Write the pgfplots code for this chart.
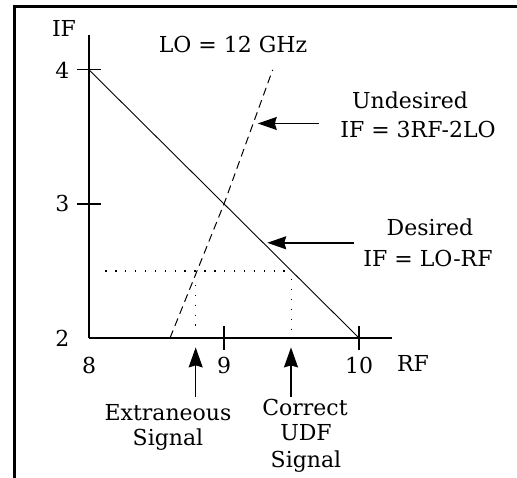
\documentclass[border=0pt]{standalone}
\usepackage{pgfplots}
\pgfplotsset{compat=1.18}
\usepackage{fontspec}
\setmainfont{DejaVu Serif}
\usetikzlibrary{arrows.meta}
\begin{document}
\fontsize{22pt}{26pt}\selectfont
\begin{tikzpicture}[x=1pt,y=1pt]
\useasboundingbox (0,0) rectangle (517,478);
\fill[white] (0,0) rectangle (517,478);
\draw[line width=3pt] (14.5,-5) -- (14.5,471.5) -- (522,471.5);
\begin{axis}[
  at={(89pt,140pt)}, anchor=south west,
  scale only axis, width=303pt, height=303pt,
  xmin=8, xmax=10.244, ymin=2, ymax=4.26,
  axis lines=left,
  axis line style={-, line width=2.8pt, black},
  xtick={9,10}, ytick={3,4},
  extra x ticks={8}, extra y ticks={2},
  extra tick style={tick style={draw=none}},
  tick align=center, major tick length=24pt,
  tick style={line width=1.2pt, black},
  /pgf/number format/assume math mode=true,
  clip=false,
]
\addplot[black, line width=0.9pt] coordinates {(8,4) (10,2)};
\addplot[black, line width=1pt, dash pattern=on 8pt off 5pt] coordinates {(8.6,2) (9,3) (9.36,4)};
\addplot[black, line width=1.4pt, dash pattern=on 1.4pt off 8.5pt] coordinates {(8.12,2.5) (9.49,2.5)};
\addplot[black, line width=1.4pt, dash pattern=on 1.4pt off 8.5pt] coordinates {(8.79,2.47) (8.79,2.06)};
\addplot[black, line width=1.4pt, dash pattern=on 1.4pt off 8.5pt] coordinates {(9.50,2.44) (9.50,2.06)};
\draw[-{Stealth[length=19pt,width=13pt,inset=2pt]}, line width=1.4pt] (axis cs:9.70,3.60) -- (axis cs:9.25,3.60);
\draw[-{Stealth[length=19pt,width=13pt,inset=2pt]}, line width=1.4pt] (axis cs:9.96,2.71) -- (axis cs:9.32,2.71);
\draw[-{Stealth[length=20pt,width=14pt,inset=2pt]}, line width=1.4pt] (axis cs:8.79,1.56) -- (axis cs:8.79,1.93);
\draw[-{Stealth[length=20pt,width=14pt,inset=2pt]}, line width=1.4pt] (axis cs:9.496,1.56) -- (axis cs:9.496,1.93);
\end{axis}
\node at (64,450) {IF};
\node at (233,433) {LO = 12 GHz};
\node at (410,378) {Undesired};
\node at (418,348) {IF = 3RF-2LO};
\node at (430,251) {Desired};
\node at (428,220) {IF = LO-RF};
\node at (413,115) {RF};
\node at (168,65) {Extraneous};
\node at (168,38) {Signal};
\node at (305,71) {Correct};
\node at (306,45) {UDF};
\node at (306,16) {Signal};
\end{tikzpicture}
\end{document}
